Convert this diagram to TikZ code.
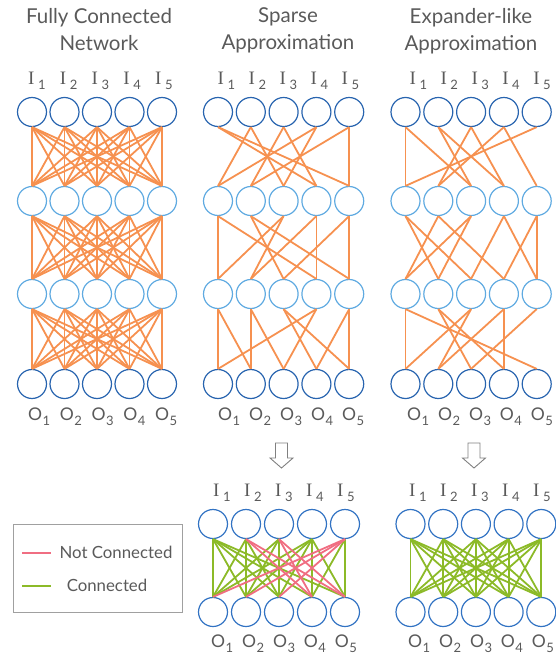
\documentclass[tikz,border=0pt]{standalone}
\usepackage{fontspec}
\setmainfont{Lato}
\newfontfamily\ifont{Liberation Serif}
\definecolor{dblue}{RGB}{40,100,175}
\definecolor{lblue}{RGB}{95,170,225}
\definecolor{mblue}{RGB}{50,115,195}
\definecolor{eorange}{RGB}{246,145,80}
\definecolor{egreen}{RGB}{140,186,40}
\definecolor{epink}{RGB}{240,110,130}
\definecolor{tgray}{RGB}{90,90,90}
\definecolor{bgray}{RGB}{160,160,160}
\newcommand\ilab[1]{{\ifont\fontsize{19}{19}\selectfont I}\hspace{3.5pt}\raisebox{-5pt}{\fontsize{13}{13}\selectfont #1}}
\newcommand\olab[1]{{\fontsize{17.5}{18}\selectfont O}\hspace{0.5pt}\raisebox{-5pt}{\fontsize{13}{13}\selectfont #1}}
\begin{document}
\begin{tikzpicture}[x=1pt,y=-1pt,
  outer/.style={circle,draw=dblue,line width=1.2pt,minimum size=29pt,inner sep=0pt},
  hidden/.style={circle,draw=lblue,line width=1.2pt,minimum size=29pt,inner sep=0pt},
  bnode/.style={circle,draw=mblue,line width=1.2pt,minimum size=29pt,inner sep=0pt},
  edge/.style={draw=eorange,line width=1.8pt},
  gedge/.style={draw=egreen,line width=1.8pt},
  pedge/.style={draw=epink,line width=1.8pt},
  lab/.style={text=tgray,inner sep=0pt,anchor=base west},
  title/.style={text=tgray,align=center,font=\fontsize{20.5}{27}\selectfont,inner sep=0pt},
  legtext/.style={text=tgray,font=\fontsize{16.8}{18}\selectfont,inner sep=0pt},
  hollow/.style={draw=gray,fill=white,line width=0.9pt,line join=miter}]
\useasboundingbox (0,0) rectangle (556,658);

% titles
\node[title] (t1) at (99,30) {Fully Connected\\Network};
\node[title] (t2) at (288,30) {Sparse\\Approximation};
\node[title] (t3) at (471,31) {Expander-like\\Approximation};

% nodes of the three top panels
\foreach \p/\xs/\dx in {1/32/32.5, 2/218/32.8, 3/405.5/32.8} {
  \foreach \r/\yy/\st in {1/112/outer, 2/201/hidden, 3/294/hidden, 4/384/outer} {
    \foreach \c in {1,...,5} {
      \node[\st] (p\p r\r c\c) at ({\xs+(\c-1)*\dx}, \yy) {};
    }
  }
}
% labels of the top panels
\foreach \p/\is/\os/\ld in {1/28/28/31.75, 2/217.5/218/31, 3/409.5/407/30.9} {
  \foreach \c in {1,...,5} {
    \node[lab] (p\p i\c) at ({\is+(\c-1)*\ld}, 85) {\ilab{\c}};
    \node[lab] (p\p o\c) at ({\os+(\c-1)*\ld}, 420) {\olab{\c}};
  }
}

% fully connected
\foreach \r/\rn in {1/2,2/3,3/4}
  \foreach \a in {1,...,5}
    \foreach \b in {1,...,5}
      \draw[edge] (p1r\r c\a.south) -- (p1r\rn c\b.north);

% sparse
\foreach \a/\b in {1/4,1/5,2/1,2/3,3/2,3/4,4/1,4/3,5/2,5/5}
  \draw[edge] (p2r1c\a.south) -- (p2r2c\b.north);
\foreach \a/\b in {1/1,1/4,2/3,2/5,3/1,3/2,4/2,4/4,5/3,5/5}
  \draw[edge] (p2r2c\a.south) -- (p2r3c\b.north);
\foreach \a/\b in {1/1,1/2,2/2,2/3,3/4,3/5,4/1,4/3,5/4,5/5}
  \draw[edge] (p2r3c\a.south) -- (p2r4c\b.north);

% expander-like
\foreach \a/\b in {1/1,1/3,2/3,2/4,3/2,3/4,4/2,4/5,5/1}
  \draw[edge] (p3r1c\a.south) -- (p3r2c\b.north);
\foreach \a/\b in {1/2,1/3,2/1,2/4,3/1,3/2,4/3,4/5,5/4,5/5}
  \draw[edge] (p3r2c\a.south) -- (p3r3c\b.north);
\foreach \a/\b in {1/1,1/5,2/3,2/4,3/1,3/2,4/2,4/4,5/3}
  \draw[edge] (p3r3c\a.south) -- (p3r4c\b.north);

% hollow arrows
\foreach \ax in {281.5,474} {
  \draw[hollow] (\ax-6,443) -- (\ax+6,443) -- (\ax+6,458) -- (\ax+11.5,458) -- (\ax,468) -- (\ax-11.5,458) -- (\ax-6,458) -- cycle;
}

% bottom panels
\foreach \q/\xs/\dx/\is/\os in {2/213/33/213/211, 3/410.5/32.7/409/408} {
  \foreach \c in {1,...,5} {
    \node[bnode] (q\q t\c) at ({\xs+(\c-1)*\dx}, 524) {};
    \node[bnode] (q\q b\c) at ({\xs+(\c-1)*\dx}, 612) {};
    \node[lab] (q\q i\c) at ({\is+(\c-1)*31}, 496) {\ilab{\c}};
    \node[lab] (q\q o\c) at ({\os+(\c-1)*30.9}, 647) {\olab{\c}};
  }
}
\foreach \a/\b in {1/1,1/2,1/3,1/4,1/5,2/1,2/2,2/3,3/1,3/2,3/3,4/1,4/2,4/3,4/4,4/5,5/4,5/5}
  \draw[gedge] (q2t\a.south) -- (q2b\b.north);
\foreach \a/\b in {2/4,2/5,3/4,3/5,5/1,5/2,5/3}
  \draw[pedge] (q2t\a.south) -- (q2b\b.north);
\foreach \a in {1,...,5}
  \foreach \b in {1,...,5}
    \draw[gedge] (q3t\a.south) -- (q3b\b.north);

% legend
\node[draw=bgray,line width=0.8pt,minimum width=169pt,minimum height=88pt,inner sep=0pt] (legend) at (97.5,568) {};
\coordinate (lp1) at (22,553);
\coordinate (lp2) at (51,553);
\coordinate (lg1) at (22,586);
\coordinate (lg2) at (51,586);
\draw[draw=epink,line width=2.5pt] (lp1) -- (lp2);
\draw[draw=egreen,line width=2.5pt] (lg1) -- (lg2);
\node[legtext] (ltp) at (116,552) {Not Connected};
\node[legtext] (ltg) at (107,585) {Connected};
\end{tikzpicture}
\end{document}
